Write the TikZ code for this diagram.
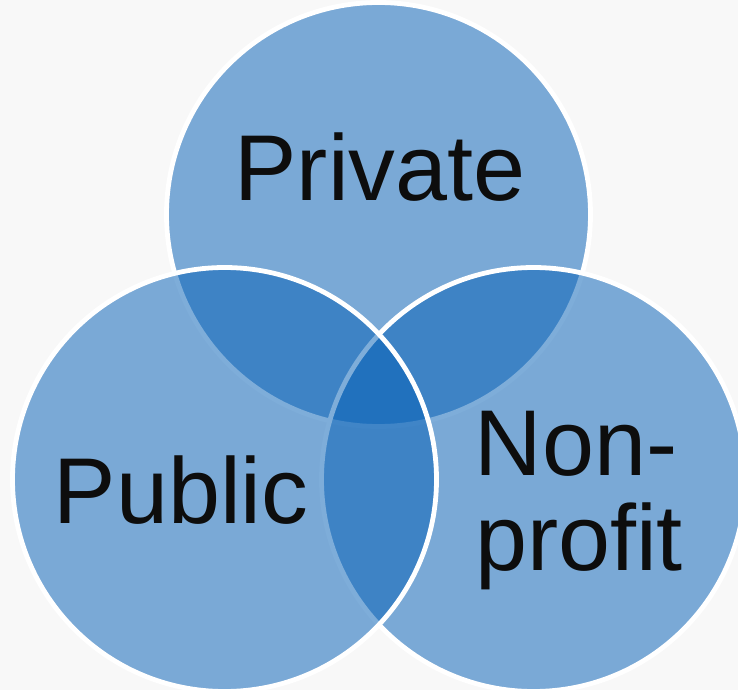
\documentclass[tikz,border=0pt]{standalone}
\usepackage{fontspec}
\setmainfont{Liberation Sans}
\definecolor{bg}{RGB}{248,248,248}
\definecolor{venn}{RGB}{8,98,183}
\tikzset{
  vcircle/.style={draw=white, line width=4.8pt, fill=venn, fill opacity=0.52, draw opacity=1},
  vlabel/.style={anchor=base, text=black!95, font=\fontsize{93.5}{98}\selectfont, align=center, inner sep=0pt}
}
\begin{document}
\begin{tikzpicture}[x=1pt,y=-1pt]
\fill[bg] (0,0) rectangle (738,690);
\useasboundingbox (0,0) rectangle (738,690);
\begin{scope}
\clip (0,0) rectangle (738,690);
\path[vcircle] (378.5,214.5) circle[radius=212];
\path[vcircle] (533.5,479.5) circle[radius=212];
\path[vcircle] (224.5,479.5) circle[radius=212];
\end{scope}
\node[vlabel] (private) at (380,200) {Private};
\node[vlabel] (public) at (181,523) {Public};
\node[vlabel] (non) at (576,475) {Non-};
\node[vlabel] (profit) at (579,570) {profit};
\end{tikzpicture}
\end{document}
